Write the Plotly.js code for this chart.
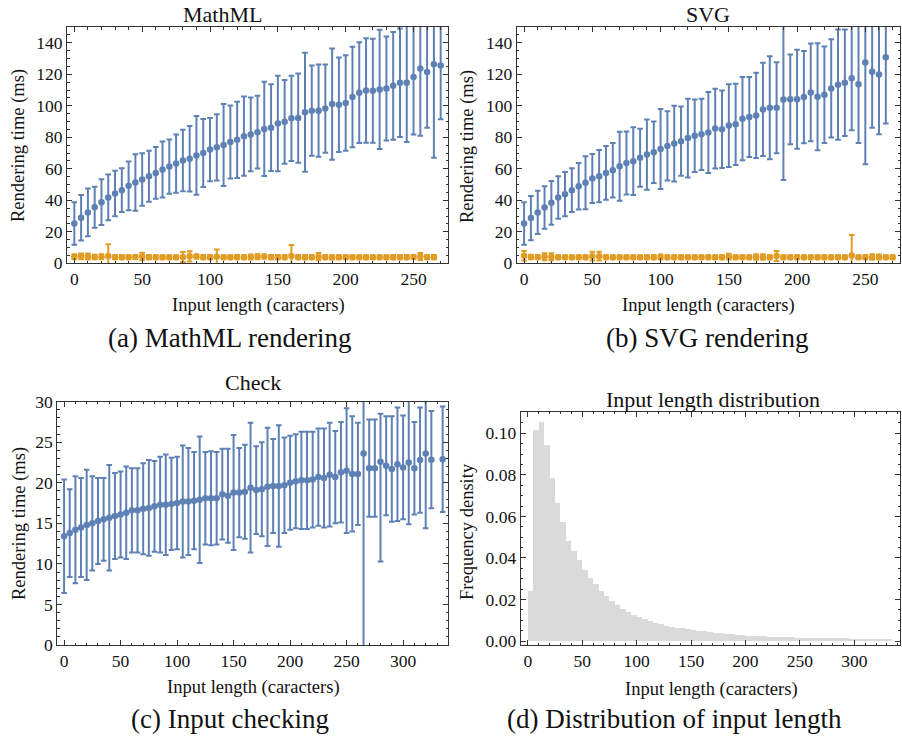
<!DOCTYPE html>
<html>
<head>
<meta charset="utf-8">
<script src="https://cdn.plot.ly/plotly-3.0.1.min.js"></script>
<style>
html,body{margin:0;padding:0;background:#fff;}
#chart{width:902px;height:738px;}
</style>
</head>
<body>
<div id="chart"></div>
<script>
// ---- Data ----
// Input length (characters), step 5
const lengths = [0,5,10,15,20,25,30,35,40,45,50,55,60,65,70,75,80,85,90,95,100,105,110,115,120,125,130,135,140,145,150,155,160,165,170,175,180,185,190,195,200,205,210,215,220,225,230,235,240,245,250,255,260,265,270];

// (a) MathML rendering - blue series (0..270)
const mathmlMean = [25.3,28.9,32.3,35.6,38.8,41.8,44.3,46.4,49.2,51.3, 53.2,55.3,57.4,59.5,61.4,63.3,65.2,66.4,68.5,70.0, 72.2,73.6,75.1,77.0,78.4,80.7,81.8,83.2,85.3,86.1, 88.8,89.8,92.0,92.2,95.9,96.9,96.9,98.2,101.1,100.7, 101.7,105.5,108.3,109.7,109.5,110.4,111.0,112.7,114.6,114.6, 118.2,123.7,121.5,126.4,125.6];
const mathmlErr = [13.5,14.5,15.2,13,14.5,14.5,14.5,13.9,15.5,18, 16.6,16.2,16.5,17.8,17.2,18.5,19.5,20.8,25,21.6, 20.1,21,26,23.1,24.2,25.2,23.4,23.1,29.9,27.5, 30.3,26.6,27.1,28.3,37.8,28.7,29.3,28,35.3,30, 30.3,31.9,32,33.1,33,37.9,33,34.2,34.4,37.6, 36.4,42.7,35.5,59.4,34.2];
// (a) MathML rendering - orange series (0..265)
const mathmlOrMean = [4.2,4.4,4.3,4.0,4.1,4.6,3.9,3.9,3.8,4.0, 4.3,3.9,3.9,3.8,3.8,3.8,4.0,4.4,4.3,3.9, 3.9,4.2,3.8,3.8,3.9,3.9,4.0,4.2,4.3,3.9, 3.9,3.9,4.6,3.9,3.9,3.9,4.2,3.9,3.8,3.8, 3.8,3.8,3.8,3.8,3.8,3.8,3.8,3.9,3.9,3.9, 4.0,4.3,3.9,3.9];
const mathmlOrErr = [1.6,1.9,1.9,1.5,1.6,7.5,1.3,1.3,1.3,1.3, 2.4,1.3,1.3,1.3,1.3,1.3,3.2,3.3,1.3,1.3, 1.3,4.6,1.3,1.3,1.3,1.3,1.6,1.6,1.3,1.3, 1.3,1.3,7.0,1.4,1.3,1.3,2.3,1.4,1.4,1.3, 1.3,1.3,1.3,1.3,1.3,1.3,1.3,1.3,1.3,1.3, 1.3,2.2,1.3,1.3];

// (b) SVG rendering - blue series (0..265)
const svgMean = [25.3,28.7,32.3,35.4,38.4,41.8,43.9,46.4,48.9,51.1, 53.8,55.3,57.4,59.1,61.6,63.7,64.8,67.0,69.0,70.5, 72.5,74.5,76.0,77.5,79.5,81.0,81.9,83.0,85.5,85.1, 87.4,88.2,91.8,92.8,93.9,97.7,98.8,98.8,103.9,104.1, 104.1,105.5,108.5,105.7,107.0,111.0,113.4,114.6,117.5,113.6, 127.5,121.6,119.9,130.8];
const svgErr = [13.5,14,13.7,13.5,13.9,13.5,14,13.9,14.8,16.8, 15.6,16.6,17,17.3,21.9,20,21.5,18.4,22.3,19.5, 25.4,22,24,22,25,23,22.6,25.7,25.3,24.6, 26.2,25.8,26.4,25.4,27.1,29.6,32.7,28.9,51,28.5, 31.4,29.3,31.1,34,30.7,31.2,35,33.8,33.1,37.2, 64.6,35.5,38,42.1];
// (b) SVG rendering - orange series (0..270)
const svgOrMean = [4.8,4.0,3.9,4.2,4.2,3.8,3.8,3.8,3.8,3.8, 4.5,4.5,3.8,3.8,3.8,3.8,3.8,3.8,3.8,3.9, 4.0,3.9,3.8,3.8,3.8,3.8,3.8,3.8,3.8,3.8, 4.2,3.8,3.8,3.8,4.0,4.0,3.8,4.6,3.8,3.8, 3.8,3.8,3.8,3.8,3.8,3.8,3.8,3.8,5.0,3.8, 3.8,4.0,4.0,3.8,3.8];
const svgOrErr = [3.0,1.4,1.3,2.2,2.2,1.3,1.3,1.3,1.3,1.3, 2.8,2.8,1.3,1.3,1.3,1.3,1.3,1.3,1.3,1.4, 1.6,1.4,1.3,1.3,1.3,1.3,1.3,1.3,1.3,1.3, 1.8,1.3,1.3,1.3,1.7,1.7,1.3,3.2,1.3,1.3, 1.3,1.3,1.3,1.3,1.3,1.3,1.3,1.3,13.0,1.3, 1.3,1.8,1.6,1.3,1.3];

// (c) Input checking (no point at 330)
const checkX = [0,5,10,15,20,25,30,35,40,45,50,55,60,65,70,75,80,85,90,95,100,105,110,115,120,125,130,135,140,145,150,155,160,165,170,175,180,185,190,195,200,205,210,215,220,225,230,235,240,245,250,255,260,265,270,275,280,285,290,295,300,305,310,315,320,325,335];
const checkMean = [13.4,13.8,14.2,14.5,14.8,15.0,15.3,15.5,15.7,15.9, 16.1,16.3,16.6,16.6,16.8,16.9,17.1,17.3,17.3,17.4, 17.5,17.7,17.7,17.8,17.9,18.1,18.1,18.1,18.6,18.4, 18.8,18.8,18.9,19.4,19.1,19.2,19.5,19.6,19.6,19.7, 20.0,20.2,20.3,20.3,20.4,20.7,20.6,21.0,20.7,21.3, 21.5,21.1,21.1,23.6,21.8,21.8,22.6,22.1,21.7,22.3, 21.9,22.5,21.8,22.8,23.6,22.85,22.9];
const checkErrUp = [7.0,5.4,6.6,6.1,6.8,5.8,5.3,5.1,6.5,5.3, 5.3,5.7,5.2,5.2,5.6,5.9,5.6,5.9,6.2,5.7, 5.7,6.9,6.6,6.0,7.8,5.7,5.8,5.7,5.6,5.8, 7.1,5.5,5.8,8.0,5.4,5.8,7.3,5.8,7.5,5.9, 5.8,5.8,6.0,6.0,5.9,6.0,6.1,6.4,5.7,6.2, 7.7,7.1,6.3,25,6.0,6.0,5.9,6.1,6.5,7.0, 6.4,7.6,5.7,6.5,9.2,6.0,6.5];
const checkErrDown = [7.0,5.4,6.6,6.1,6.8,5.8,5.3,5.1,6.5,5.3, 5.3,5.7,5.2,5.2,5.6,5.9,5.6,5.9,6.2,5.7, 5.7,6.9,6.6,6.0,7.8,5.7,5.8,5.7,5.6,5.8, 7.1,5.5,5.8,8.0,5.4,5.8,7.3,5.8,7.5,5.9, 5.8,5.8,6.0,6.0,5.9,6.0,6.1,6.4,5.7,6.2, 7.7,7.1,6.3,25,6.0,6.0,12.3,6.1,6.5,7.0, 6.4,7.6,5.7,6.5,9.2,6.0,6.5];

// (d) Input length distribution: bin starts (width 5) and frequency density
const histBins = [0,5,10,15,20,25,30,35,40,45,50,55,60,65,70,75,80,85,90,95,100,105,110,115,120,125,130,135,140,145,150,155,160,165,170,175,180,185,190,195,200,205,210,215,220,225,230,235,240,245,250,255,260,265,270,275,280,285,290,295,300,305,310,315,320,325,330];
const histDensity = [0.0241,0.1016,0.1056,0.0944,0.0783,0.0666,0.0575,0.0481,0.0435,0.0390, 0.0342,0.0305,0.0273,0.0242,0.0217,0.0193,0.0173,0.0153,0.0138,0.0125, 0.0114,0.0104,0.0096,0.0088,0.0082,0.0074,0.0069,0.0064,0.0061,0.0056, 0.0053,0.0050,0.0047,0.0043,0.0040,0.0037,0.0034,0.0032,0.0029,0.0027, 0.0026,0.0024,0.0023,0.0022,0.0021,0.0020,0.0019,0.0018,0.0018,0.0017, 0.0016,0.0016,0.0015,0.0015,0.0014,0.0014,0.0013,0.0013,0.0013,0.0012, 0.0012,0.0012,0.0011,0.0011,0.0011,0.0010,0.0010];

// ---- Styling ----
const BLUE = '#5E81B5';
const ORANGE = '#E19C24';
const GRAYBAR = '#DADADA';
const FONT = '"Liberation Serif", "Times New Roman", Times, serif';
const CAPFONT = '"Liberation Serif", "Times New Roman", Times, serif';
const W = 902, H = 738;

function errTrace(x, y, errUp, errDown, color, xa, ya) {
  const ey = {type:'data', array: errUp, visible:true, color: color, thickness:2, width:2.8};
  if (errDown) { ey.symmetric = false; ey.arrayminus = errDown; }
  return {
    type:'scatter', mode:'markers', x:x, y:y, xaxis:xa, yaxis:ya,
    marker:{color:color, size:6.5},
    error_y: ey, showlegend:false, hoverinfo:'skip'
  };
}

const traces = [
  errTrace(lengths, mathmlMean, mathmlErr, null, BLUE, 'x', 'y'),
  errTrace(lengths.slice(0, mathmlOrMean.length), mathmlOrMean, mathmlOrErr, null, ORANGE, 'x', 'y'),
  errTrace(lengths.slice(0, svgMean.length), svgMean, svgErr, null, BLUE, 'x2', 'y2'),
  errTrace(lengths.slice(0, svgOrMean.length), svgOrMean, svgOrErr, null, ORANGE, 'x2', 'y2'),
  errTrace(checkX, checkMean, checkErrUp, checkErrDown, BLUE, 'x3', 'y3'),
  {type:'bar', x:histBins, y:histDensity, width:5, offset:0, xaxis:'x4', yaxis:'y4',
   marker:{color:GRAYBAR, line:{width:0}}, showlegend:false, hoverinfo:'skip'}
];

function ax(domain, range, dtick, minorDtick, anchor, extra) {
  return Object.assign({
    domain: domain, range: range, anchor: anchor,
    showline:true, linecolor:'#333', linewidth:1, mirror:'allticks',
    ticks:'inside', ticklen:5, tickwidth:1, tickcolor:'#333',
    dtick: dtick, tick0: 0,
    minor:{ticks:'inside', ticklen:2.5, tickwidth:1, tickcolor:'#333', dtick:minorDtick, tick0:0},
    showgrid:false, zeroline:false, fixedrange:true,
    tickfont:{family:FONT, size:17.5, color:'#111'}
  }, extra || {});
}
function px(x0, x1) { return [x0 / W, x1 / W]; }
function py(y0, y1) { return [1 - y1 / H, 1 - y0 / H]; }

const layout = {
  width: W, height: H,
  margin:{l:0, r:0, t:0, b:0},
  paper_bgcolor:'#fff', plot_bgcolor:'#fff',
  font:{family:FONT, color:'#111'},
  bargap:0,
  xaxis:  ax(px(67, 448),    [-5.4, 275.4], 50, 10, 'y'),
  yaxis:  ax(py(27, 263.3),  [0, 150], 20, 5, 'x'),
  xaxis2: ax(px(516.7, 900), [-5.4, 275.4], 50, 10, 'y2'),
  yaxis2: ax(py(27, 263.3),  [0, 150], 20, 5, 'x2'),
  xaxis3: ax(px(57.3, 448.3),[-6, 340], 50, 10, 'y3'),
  yaxis3: ax(py(401.7, 645), [0, 30], 5, 1, 'x3'),
  xaxis4: ax(px(520.7, 900), [-6.5, 342], 50, 10, 'y4'),
  yaxis4: ax(py(411.7, 645), [-0.0019, 0.1104], 0.02, 0.005, 'x4', {tickformat:'.2f'}),
  annotations: []
};

function note(text, x, y, size, angle, family) {
  layout.annotations.push({
    text: text, xref:'paper', yref:'paper', x: x / W, y: 1 - y / H,
    xanchor:'center', yanchor:'middle', showarrow:false, textangle: angle || 0,
    font:{family: family || FONT, size: size, color:'#111'}
  });
}
// panel titles
note('MathML', 222, 15, 22);
note('SVG', 708, 15, 22);
note('Check', 253, 382, 22);
note('Input length distribution', 713, 400, 22);
// axis labels
note('Input length (caracters)', 258, 305, 18.5);
note('Input length (caracters)', 708, 305, 18.5);
note('Input length (caracters)', 253, 687, 18.5);
note('Input length (caracters)', 711, 689, 18.5);
note('Rendering time (ms)', 19, 146, 18.5, -90);
note('Rendering time (ms)', 468, 146, 18.5, -90);
note('Rendering time (ms)', 19, 524, 18.5, -90);
note('Frequency density', 467, 531, 18.5, -90);
// sub-figure captions
note('(a) MathML rendering', 229, 338, 27, 0, CAPFONT);
note('(b) SVG rendering', 707, 338, 27, 0, CAPFONT);
note('(c) Input checking', 230, 719, 27, 0, CAPFONT);
note('(d) Distribution of input length', 674, 719, 27, 0, CAPFONT);

Plotly.newPlot('chart', traces, layout, {displayModeBar:false, staticPlot:true});
</script>
</body>
</html>
